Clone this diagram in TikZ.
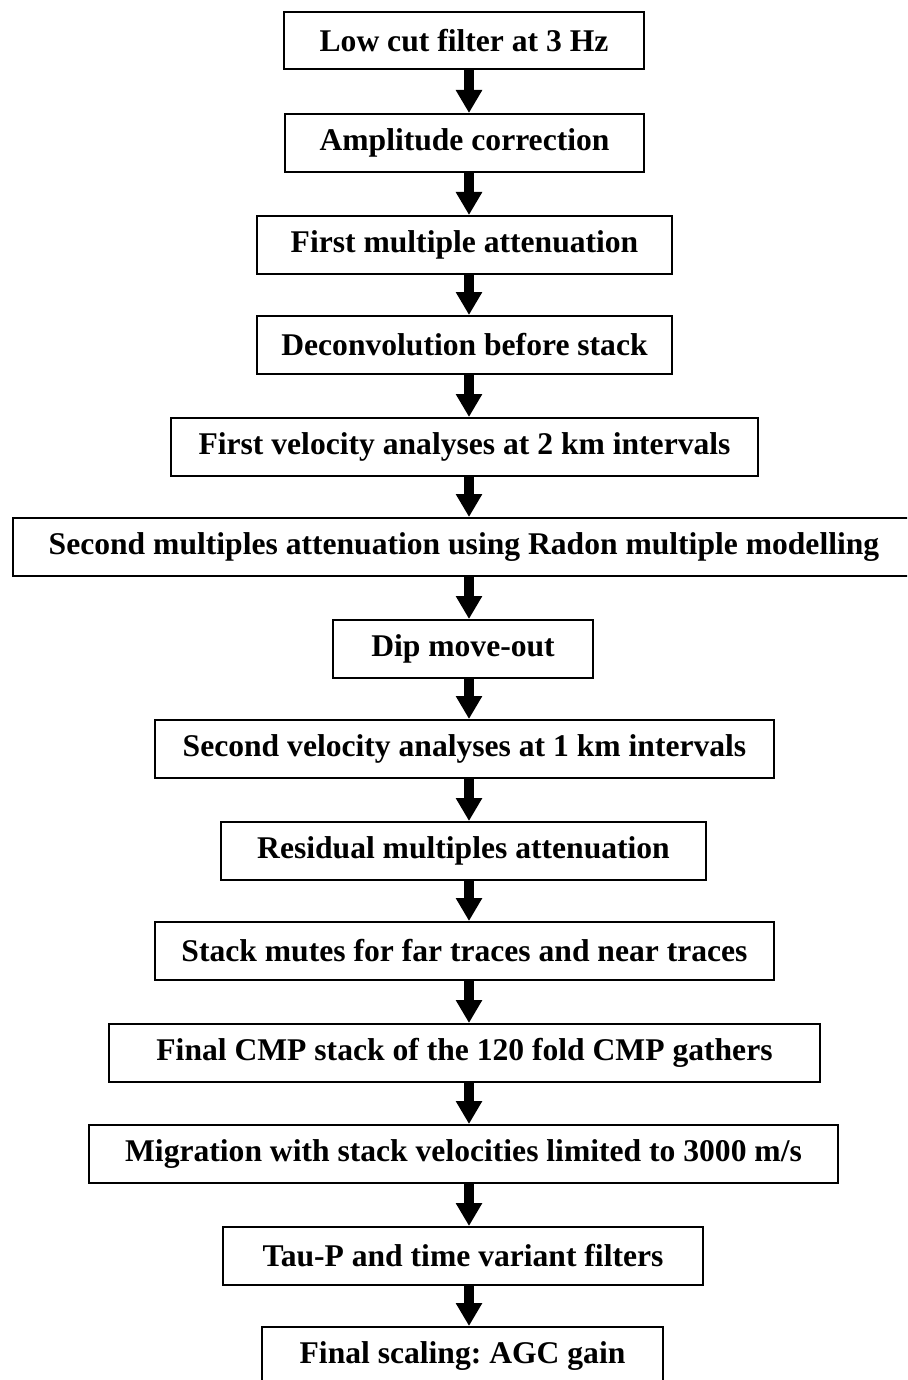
\documentclass[tikz,border=0pt]{standalone}
\usepackage{fontspec}
\setmainfont{Liberation Serif}
\usetikzlibrary{arrows.meta}
\frenchspacing
\tikzset{
  stepbox/.style={draw=black, line width=2pt, inner sep=0pt, fill=white,
    font=\fontsize{31.6}{37}\selectfont\bfseries, align=center},
  flowarrow/.style={line width=10pt, -{Triangle[width=25pt,length=23pt]}, black}
}
\newcommand{\boxat}[6]{%
  \node[stepbox, minimum width={#3-#2}, minimum height={#5-#4}] (#1) at ({(#2+#3)/2},{(#4+#5)/2}) {#6};}
\begin{document}
\begin{tikzpicture}[x=1pt,y=-1pt]
\path[use as bounding box] (0,0) rectangle (907,1380);
\clip (0,0) rectangle (907,1380);
\fill[white] (0,0) rectangle (907,1380);
\boxat{b1}{284}{644}{12}{69}{Low cut filter at 3 Hz}
\boxat{b2}{285}{644}{114}{172}{Amplitude correction}
\boxat{b3}{257}{672}{216}{274}{First multiple attenuation}
\boxat{b4}{257}{672}{316}{374}{Deconvolution before stack}
\boxat{b5}{171}{758}{418}{476}{First velocity analyses at 2 km intervals}
\boxat{b6}{13}{915}{518}{576}{Second multiples attenuation using Radon multiple modelling}
\boxat{b7}{333}{593}{620}{678}{Dip move-out}
\boxat{b8}{155}{774}{720}{778}{Second velocity analyses at 1 km intervals}
\boxat{b9}{221}{706}{822}{880}{Residual multiples attenuation}
\boxat{b10}{155}{774}{922}{980}{Stack mutes for far traces and near traces}
\boxat{b11}{109}{820}{1024}{1082}{Final CMP stack of the 120 fold CMP gathers}
\boxat{b12}{89}{838}{1125}{1183}{Migration with stack velocities limited to 3000 m/s}
\boxat{b13}{223}{703}{1227}{1285}{Tau-P and time variant filters}
\boxat{b14}{262}{663}{1327}{1385}{Final scaling: AGC gain}
\coordinate (ax) at (469,0);
\foreach \i [evaluate=\i as \j using int(\i+1)] in {1,...,13} {
  \draw[flowarrow] (b\i.south -| ax) -- (b\j.north -| ax);
}
\end{tikzpicture}
\end{document}
